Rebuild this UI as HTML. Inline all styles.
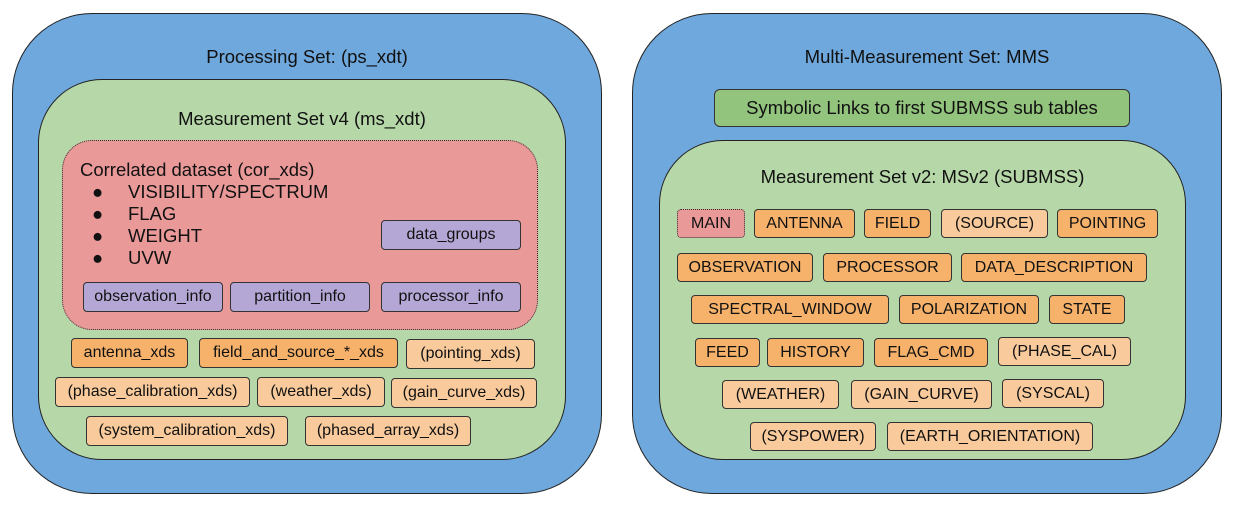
<!DOCTYPE html>
<html><head><style>
body{margin:0;width:1241px;height:525px;background:#fff;position:relative;overflow:hidden;font-family:"Liberation Sans",sans-serif;color:#111}
div{position:absolute;box-sizing:border-box}
.o{background:#6fa8dc;border:1px solid #222;border-radius:80px}
.g{background:#b6d7a8;border:1px solid #222;border-radius:64px}
.b{border:1px solid #333;border-radius:4px;font-size:16px;display:flex;align-items:center;justify-content:center;white-space:nowrap}
.p{background:#b4a7d6}.d{background:#f6b26b}.l{background:#f9cb9c}
.tx{font-size:18.5px;white-space:nowrap}
</style></head><body>
<div class="o" style="left:12px;top:13px;width:590px;height:481px"></div>
<div class="tx" style="left:12px;width:590px;top:46px;text-align:center">Processing Set: (ps_xdt)</div>
<div class="g" style="left:38px;top:79px;width:528px;height:381px"></div>
<div class="tx" style="left:38px;width:528px;top:108px;text-align:center">Measurement Set v4 (ms_xdt)</div>
<div style="left:62px;top:140px;width:476px;height:190px;background:#ea9999;border:1px dotted #333;border-radius:30px"></div>
<div class="tx" style="left:80px;top:159px">Correlated dataset (cor_xds)</div>
<div class="tx" style="left:92px;top:181px;line-height:22px">●<br>●<br>●<br>●</div>
<div class="tx" style="left:128px;top:181px;line-height:22px">VISIBILITY/SPECTRUM<br>FLAG<br>WEIGHT<br>UVW</div>
<div class="b p" style="left:381px;top:220px;width:140px;height:30px">data_groups</div>
<div class="b p" style="left:83px;top:282px;width:140px;height:30px">observation_info</div>
<div class="b p" style="left:230px;top:282px;width:140px;height:30px">partition_info</div>
<div class="b p" style="left:381px;top:282px;width:140px;height:30px">processor_info</div>
<div class="b d" style="left:71px;top:338px;width:117px;height:30px">antenna_xds</div>
<div class="b d" style="left:199px;top:338px;width:199px;height:30px">field_and_source_*_xds</div>
<div class="b l" style="left:406px;top:339px;width:129px;height:30px">(pointing_xds)</div>
<div class="b l" style="left:55px;top:377px;width:195px;height:30px">(phase_calibration_xds)</div>
<div class="b l" style="left:257px;top:377px;width:128px;height:30px">(weather_xds)</div>
<div class="b l" style="left:391px;top:378px;width:146px;height:30px">(gain_curve_xds)</div>
<div class="b l" style="left:86px;top:416px;width:202px;height:30px">(system_calibration_xds)</div>
<div class="b l" style="left:305px;top:416px;width:166px;height:30px">(phased_array_xds)</div>

<div class="o" style="left:632px;top:13px;width:590px;height:481px"></div>
<div class="tx" style="left:632px;width:590px;top:46px;text-align:center">Multi-Measurement Set: MMS</div>
<div class="b" style="left:714px;top:89px;width:416px;height:38px;background:#93c47d;font-size:18.5px;border-radius:6px">Symbolic Links to first SUBMSS sub tables</div>
<div class="g" style="left:659px;top:140px;width:527px;height:320px"></div>
<div class="tx" style="left:659px;width:527px;top:166px;text-align:center">Measurement Set v2: MSv2 (SUBMSS)</div>
<div class="b" style="left:677px;top:209px;width:68px;height:29px;background:#ea9999;border:1px dotted #333">MAIN</div>
<div class="b d" style="left:754px;top:209px;width:101px;height:29px">ANTENNA</div>
<div class="b d" style="left:864px;top:209px;width:67px;height:29px">FIELD</div>
<div class="b l" style="left:941px;top:209px;width:107px;height:29px">(SOURCE)</div>
<div class="b d" style="left:1057px;top:209px;width:101px;height:29px">POINTING</div>
<div class="b d" style="left:677px;top:253px;width:136px;height:29px">OBSERVATION</div>
<div class="b d" style="left:823px;top:253px;width:129px;height:29px">PROCESSOR</div>
<div class="b d" style="left:961px;top:253px;width:186px;height:29px">DATA_DESCRIPTION</div>
<div class="b d" style="left:691px;top:295px;width:198px;height:29px">SPECTRAL_WINDOW</div>
<div class="b d" style="left:899px;top:295px;width:140px;height:29px">POLARIZATION</div>
<div class="b d" style="left:1049px;top:295px;width:76px;height:29px">STATE</div>
<div class="b d" style="left:695px;top:338px;width:65px;height:29px">FEED</div>
<div class="b d" style="left:767px;top:338px;width:97px;height:29px">HISTORY</div>
<div class="b d" style="left:874px;top:338px;width:114px;height:29px">FLAG_CMD</div>
<div class="b l" style="left:998px;top:337px;width:133px;height:29px">(PHASE_CAL)</div>
<div class="b l" style="left:722px;top:380px;width:117px;height:29px">(WEATHER)</div>
<div class="b l" style="left:851px;top:380px;width:141px;height:29px">(GAIN_CURVE)</div>
<div class="b l" style="left:1002px;top:379px;width:102px;height:29px">(SYSCAL)</div>
<div class="b l" style="left:750px;top:422px;width:126px;height:29px">(SYSPOWER)</div>
<div class="b l" style="left:887px;top:422px;width:206px;height:29px">(EARTH_ORIENTATION)</div>
</body></html>
